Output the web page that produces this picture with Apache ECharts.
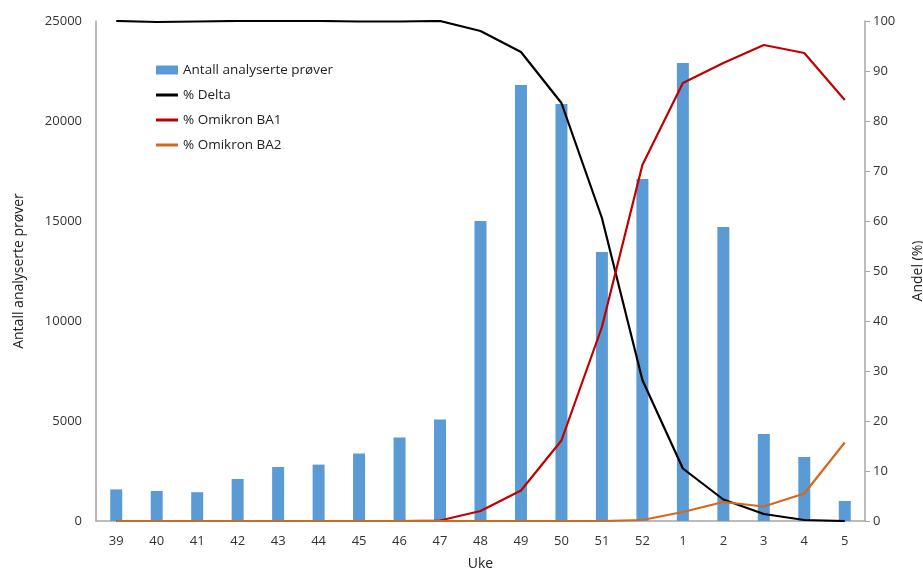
<!DOCTYPE html>
<html><head><meta charset="utf-8">
<script src="https://cdn.jsdelivr.net/npm/echarts@6/dist/echarts.min.js"></script>
<style>html,body{margin:0;padding:0;background:#fff}#c{width:923px;height:570px}</style>
</head><body><div id="c"></div>
<script>
const weeks = ['39','40','41','42','43','44','45','46','47','48','49','50','51','52','1','2','3','4','5'];
const samples = [1580,1500,1440,2100,2700,2820,3380,4170,5080,15000,21800,20850,13450,17100,22900,14700,4350,3200,1000];
const delta = [100,99.8,99.9,100,100,100,99.9,99.9,100,98,93.8,83.6,60.6,28.2,10.5,4.3,1.4,0.2,0];
const ba1 = [0,0,0,0,0,0,0,0,0.1,2,6.1,16.1,38.8,71.2,87.6,91.6,95.2,93.6,84.2];
const ba2 = [0,0,0,0,0,0,0,0,0,0,0,0,0,0.2,1.8,3.8,2.9,5.5,15.7];
const leftTicks = [0,5000,10000,15000,20000,25000];
const rightTicks = [0,10,20,30,40,50,60,70,80,90,100];

const font = 'Open Sans, Liberation Sans, sans-serif';
const chart = echarts.init(document.getElementById('c'));
chart.setOption({
  animation:false,
  textStyle:{fontFamily:font},
  grid:{left:96,right:58,top:21,bottom:49,containLabel:false,outerBoundsMode:'none'},
  legend:{
    orient:'vertical', left:151, top:58, itemGap:11, itemWidth:22, itemHeight:9,
    textStyle:{fontFamily:font,fontSize:13.5,color:'#222'},
    data:[{name:'Antall analyserte prøver',icon:'rect'},
          {name:'% Delta',icon:'path://M0,0 L22,0 L22,3 L0,3 Z'},
          {name:'% Omikron BA1',icon:'path://M0,0 L22,0 L22,3 L0,3 Z'},
          {name:'% Omikron BA2',icon:'path://M0,0 L22,0 L22,3 L0,3 Z'}]
  },
  xAxis:{
    type:'category', data:weeks, name:'Uke', nameLocation:'middle', nameGap:36,
    nameTextStyle:{fontSize:14,color:'#222',fontFamily:font},
    axisLine:{lineStyle:{color:'#a6a6a6',width:1.5}}, axisTick:{show:false},
    axisLabel:{color:'#333',fontSize:13,margin:14,fontFamily:font}
  },
  yAxis:[{
    type:'value', min:0, max:leftTicks[leftTicks.length-1], interval:leftTicks[1]-leftTicks[0],
    name:'Antall analyserte prøver', nameLocation:'middle', nameGap:70, nameRotate:90,
    nameTextStyle:{fontSize:14,color:'#222',fontFamily:font},
    axisLine:{show:true,lineStyle:{color:'#a6a6a6',width:1.5}}, axisTick:{show:false},
    splitLine:{show:false},
    axisLabel:{color:'#333',fontSize:13,margin:14,fontFamily:font,formatter:v=>String(v)}
  },{
    type:'value', position:'right', min:0, max:rightTicks[rightTicks.length-1], interval:rightTicks[1]-rightTicks[0],
    name:'Andel (%)', nameLocation:'middle', nameGap:46, nameRotate:90,
    nameTextStyle:{fontSize:14,color:'#222',fontFamily:font},
    axisLine:{show:true,lineStyle:{color:'#a6a6a6',width:1.5}},
    axisTick:{show:true,length:5,lineStyle:{color:'#a6a6a6'}},
    splitLine:{show:false},
    axisLabel:{color:'#333',fontSize:13,margin:8,fontFamily:font,formatter:v=>String(v)}
  }],
  series:[
    {name:'Antall analyserte prøver',type:'bar',data:samples,barWidth:12,itemStyle:{color:'#5b9bd5'}},
    {name:'% Delta',type:'line',yAxisIndex:1,data:delta,symbol:'none',lineStyle:{color:'#000',width:2.2},itemStyle:{color:'#000'}},
    {name:'% Omikron BA1',type:'line',yAxisIndex:1,data:ba1,symbol:'none',lineStyle:{color:'#c00000',width:2.2},itemStyle:{color:'#c00000'}},
    {name:'% Omikron BA2',type:'line',yAxisIndex:1,data:ba2,symbol:'none',lineStyle:{color:'#d2691e',width:2.2},itemStyle:{color:'#d2691e'}}
  ]
});
</script></body></html>
